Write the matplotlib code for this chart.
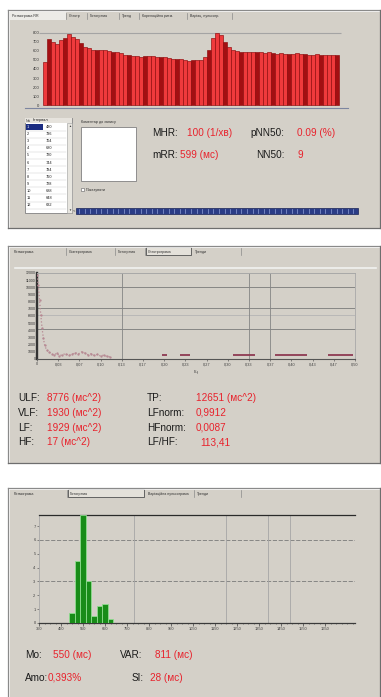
import matplotlib
matplotlib.use("Agg")
import matplotlib.pyplot as plt
from matplotlib.patches import Rectangle

plt.rcParams['font.family'] = ['Liberation Sans', 'DejaVu Sans']

W, H = 381, 697
BG = '#d4d0c8'
RED = '#e8222c'

# ---------------- data ----------------
# Panel 1: rhythmogram (RR intervals, ms)
rr_values = [480, 736, 704, 680, 720, 744, 784, 760, 728, 688, 648, 632, 616, 616, 616,
             608, 600, 592, 584, 576, 560, 552, 544, 544, 536, 544, 544, 544, 536, 536,
             528, 520, 512, 512, 512, 504, 488, 496, 496, 504, 536, 608, 744, 800, 776,
             704, 648, 616, 600, 592, 584, 592, 584, 592, 584, 576, 584, 576, 568, 576,
             568, 568, 568, 576, 568, 568, 560, 560, 568, 560, 552, 552, 552, 552]
rr_ticks = [0, 100, 200, 300, 400, 500, 600, 700, 800]
rr_tick_labels = ['0', '100', '200', '300', '400', '500', '600', '700', '800']

list_header = ['№', 'Інтервал']
list_rows = [('1', '480'), ('2', '736'), ('3', '704'), ('4', '680'), ('5', '720'),
             ('6', '744'), ('7', '784'), ('8', '760'), ('9', '728'), ('10', '688'),
             ('11', '648'), ('12', '632')]

tabs1 = ['Ритмограма RR', 'Спектр', 'Гістограма', 'Тренд', 'Кореляційна ритм.', 'Варіац. пульсогр.']
tabs2 = ['Ритмограма', 'Скатерограма', 'Гістограма', 'Спектрограма', 'Тренди']
tabs3 = ['Ритмограма', 'Гістограма', 'Варіаційна пульсограма', 'Тренди']

stat1_labels = ['MHR:', 'pNN50:', 'mRR:', 'NN50:']
stat1_values = ['100 (1/хв)', '0.09 (%)', '599 (мс)', '9']

# Panel 2: spectrum
spec_freq = [0.000, 0.002, 0.004, 0.006, 0.008, 0.010, 0.012, 0.015, 0.019, 0.023,
             0.027, 0.031, 0.035, 0.040, 0.045, 0.050, 0.055, 0.060, 0.065, 0.070,
             0.075, 0.080, 0.085, 0.090, 0.095, 0.100, 0.105, 0.110, 0.115]
spec_power = [11700, 10300, 8200, 6100, 4300, 2900, 1950, 1250, 980, 700,
              550, 800, 450, 600, 750, 500, 650, 900, 700, 1000,
              850, 600, 750, 500, 650, 400, 550, 350, 300]
band_marks = [(0.197, 0.205), (0.225, 0.241), (0.308, 0.343), (0.374, 0.425), (0.458, 0.497)]
band_level = 560
spec_xticks = [i / 30 for i in range(16)]
spec_yticks = list(range(0, 12001, 1000))
spec_vgrid = [4 / 30, 10 / 30, 11 / 30]
spec_hgrid_dark = [4200, 7100, 10000]
spec_hgrid_light = [6100]

spec_labels = ['ULF:', 'VLF:', 'LF:', 'HF:']
spec_values = ['8776 (мс^2)', '1930 (мс^2)', '1929 (мс^2)', '17 (мс^2)']
idx_labels = ['TP:', 'LFnorm:', 'HFnorm:', 'LF/HF:']
idx_values = ['12651 (мс^2)', '0,9912', '0,0087', '113,41']

# Panel 3: histogram
hist_centers = [500, 525, 550, 575, 600, 625, 650, 675]
hist_heights = [0.72, 4.5, 7.8, 3.0, 0.5, 1.2, 1.4, 0.3]
hist_xticks = list(range(350, 1700, 100))
hist_yticks = [0, 1, 2, 3, 4, 5, 6, 7]
hist_vgrid = [780, 1200, 1390, 1490]
hist_hgrid = [3, 6]

stat3_labels = ['Mo:', 'VAR:', 'Amo:', 'SI:']
stat3_values = ['550 (мс)', '811 (мс)', '0,393%', '28 (мс)']

# ---------------- figure ----------------
fig = plt.figure(figsize=(W / 100, H / 100), dpi=100)
fig.patch.set_facecolor('white')

ov = fig.add_axes([0, 0, 1, 1])
ov.set_xlim(0, W)
ov.set_ylim(H, 0)
ov.axis('off')
ov.set_zorder(0)


def rect(x0, y0, x1, y1, **kw):
    ov.add_patch(Rectangle((x0, y0), x1 - x0, y1 - y0, **kw))


def hl(y, x0, x1, **kw):
    ov.plot([x0, x1], [y, y], **kw)


def vl(x, y0, y1, **kw):
    ov.plot([x, x], [y0, y1], **kw)


def panel(y0, y1):
    rect(8, y0, 380, y1, facecolor=BG, edgecolor='none')
    hl(y0, 8, 380, color='#8a8a8a', lw=0.9)
    vl(8, y0, y1, color='#8a8a8a', lw=0.9)
    hl(y0 + 1.2, 9, 379, color='#f4f4f4', lw=0.6)
    vl(9.2, y0 + 1, y1 - 1, color='#f4f4f4', lw=0.6)
    hl(y1, 8, 380, color='#6e6e6e', lw=0.9)
    vl(380, y0, y1, color='#6e6e6e', lw=0.9)


def tabs(names, xs, y, selected=None):
    for i, name in enumerate(names):
        x0, x1 = xs[i], xs[i + 1]
        if selected == i:
            rect(x0, y - 4.5, x1 - 2, y + 3.5, facecolor='#e4e1da', edgecolor='#505050', lw=0.6)
        else:
            vl(x1 - 1, y - 3.5, y + 3, color='#8a8a8a', lw=0.5)
        ov.text(x0 + 2, y, name, fontsize=2.6, color='#303030', va='center', ha='left')


def ax_px(x0, y0, x1, y1):
    a = fig.add_axes([x0 / W, 1 - y1 / H, (x1 - x0) / W, (y1 - y0) / H])
    a.set_facecolor('none')
    a.set_zorder(2)
    return a


# ---------- Panel 1 ----------
panel(10, 228)
rect(10, 11.5, 66, 20, facecolor='#ecebe7', edgecolor='none')
tabs(tabs1, [10, 67, 88, 120, 140, 188, 233], 16, selected=None)

ax1 = ax_px(25, 30, 348, 108)
idx = list(range(len(rr_values)))
cols = ['#a30f12' if i % 4 == 1 else '#ef3a3c' for i in idx]
ax1.bar(idx, rr_values, width=1.0, color=cols, edgecolor='#8e0a0c', linewidth=0.45, zorder=3)
ax1.hlines(rr_ticks[-1], -1.5, len(rr_values), color='#a4a4a4', lw=0.8, zorder=2)
ax1.set_xlim(-5, 75.75)
ax1.set_ylim(-33.3, 833.3)
for s in ['top', 'right', 'left']:
    ax1.spines[s].set_visible(False)
ax1.spines['bottom'].set_color('#7d86a0')
ax1.spines['bottom'].set_linewidth(0.8)
ax1.set_xticks([])
ax1.set_yticks(rr_ticks)
ax1.set_yticklabels(rr_tick_labels)
ax1.tick_params(axis='y', length=0, pad=-10.5, labelsize=3.0, labelcolor='#303030')

# list box
rect(25, 118, 72, 213, facecolor='white', edgecolor='#808080', lw=0.6)
rect(25, 118, 72, 123, facecolor='#e6e3dd', edgecolor='none')
ov.text(26, 120.5, list_header[0], fontsize=2.7, va='center', color='#202020')
ov.text(33, 120.5, list_header[1], fontsize=2.7, va='center', color='#202020')
for r, (n, v) in enumerate(list_rows):
    yy = 127 + r * 7.1
    if r == 0:
        rect(25.5, yy - 3, 43, yy + 3, facecolor='#1b2d82', edgecolor='none')
        ov.text(27, yy, n, fontsize=2.8, va='center', color='white')
    else:
        ov.text(27, yy, n, fontsize=2.8, va='center', color='#202020')
    ov.text(46, yy, v, fontsize=2.8, va='center', color='#202020')
    hl(yy + 3.5, 25.5, 66, color='#c8c8c8', lw=0.3)
rect(67, 123, 72, 213, facecolor='#e8e6e0', edgecolor='#9a9a9a', lw=0.4)
ov.text(69.5, 126, '▲', fontsize=2.2, ha='center', va='center', color='#404040')
ov.text(69.5, 210, '▼', fontsize=2.2, ha='center', va='center', color='#404040')

# comment box
ov.text(81, 122.5, 'Коментар до запису', fontsize=2.7, va='center', color='#303030')
rect(81, 127, 136, 181, facecolor='white', edgecolor='#808080', lw=0.6)
rect(81, 188, 84, 191, facecolor='white', edgecolor='#606060', lw=0.4)
ov.text(86, 189.5, 'Показувати', fontsize=2.7, va='center', color='#303030')

# stats
ov.text(152, 133, stat1_labels[0], fontsize=7.2, va='center', color='#1a1a1a')
ov.text(187, 133, stat1_values[0], fontsize=7.2, va='center', color=RED)
ov.text(250, 133, stat1_labels[1], fontsize=7.2, va='center', color='#1a1a1a')
ov.text(297, 133, stat1_values[1], fontsize=7.2, va='center', color=RED)
ov.text(152, 155, stat1_labels[2], fontsize=7.2, va='center', color='#1a1a1a')
ov.text(180, 155, stat1_values[2], fontsize=7.2, va='center', color=RED)
ov.text(256, 155, stat1_labels[3], fontsize=7.2, va='center', color='#1a1a1a')
ov.text(297, 155, stat1_values[3], fontsize=7.2, va='center', color=RED)

# progress bar
ov.text(74, 210.5, '<', fontsize=3, ha='center', va='center', color='#303030')
rect(76, 208, 358, 213.5, facecolor='#2a3c86', edgecolor='#1a2458', lw=0.5)
xx = 79.0
while xx < 357:
    vl(xx, 208.6, 213, color='#8fa0d8', lw=0.5)
    xx += 5.6

# ---------- Panel 2 ----------
panel(246, 463)
tabs(tabs2, [12, 67, 116, 146, 193, 242], 251.5, selected=3)
hl(268, 15, 376, color='#f2f2f0', lw=1.2)

ax2 = ax_px(37, 273, 355, 359)
ax2.set_xlim(0, 0.5)
ax2.set_ylim(0, 12000)
for v in spec_hgrid_dark:
    ax2.axhline(v, color='#7a7a7a', lw=0.6, zorder=1)
for v in spec_hgrid_light:
    ax2.axhline(v, color='#b4b4b4', lw=0.6, zorder=1)
for v in spec_vgrid:
    ax2.axvline(v, color='#858585', lw=0.6, zorder=1)
ax2.plot(spec_freq, spec_power, ls=':', color='#b68892', lw=0.9, marker='.', ms=1.3, zorder=3)
for a, b in band_marks:
    ax2.plot([a, b], [band_level, band_level], color='#8e3a52', lw=1.3, solid_capstyle='butt', zorder=3)
ax2.spines['left'].set_color('#333333')
ax2.spines['left'].set_linewidth(1.7)
ax2.spines['top'].set_color('#a8a8a8')
ax2.spines['top'].set_linewidth(0.7)
ax2.spines['right'].set_color('#a8a8a8')
ax2.spines['right'].set_linewidth(0.6)
ax2.spines['bottom'].set_color('#555555')
ax2.spines['bottom'].set_linewidth(0.8)
ax2.set_xticks(spec_xticks)
ax2.set_xticklabels([('0' if v == 0 else f'{v:.2f}'.replace('.', ',')) for v in spec_xticks])
ax2.set_yticks(spec_yticks)
ax2.set_yticklabels([str(v) for v in spec_yticks])
ax2.tick_params(axis='x', length=1.5, width=0.4, pad=1, labelsize=2.8, colors='#404040')
ax2.tick_params(axis='y', length=0, pad=1, labelsize=2.6, colors='#303030')
ov.text(196, 372, 'Гц', fontsize=3.2, ha='center', va='center', color='#404040')

for r in range(4):
    yy = 398 + r * 14.8
    ov.text(18, yy, spec_labels[r], fontsize=7.2, va='center', color='#1a1a1a')
    ov.text(47, yy, spec_values[r], fontsize=7.2, va='center', color=RED)
    ov.text(147, yy, idx_labels[r], fontsize=7.2, va='center', color='#1a1a1a')
    ov.text(196 if r != 3 else 200, yy, idx_values[r], fontsize=7.2, va='center', color=RED)

# ---------- Panel 3 ----------
panel(488, 700)
tabs(tabs3, [12, 68, 146, 195, 242], 493.5, selected=1)

ax3 = ax_px(39, 515, 355, 623)
ax3.set_xlim(350, 350 + 316 / 0.22)
ax3.set_ylim(0, 7.8)
for v in hist_hgrid:
    ax3.axhline(v, color='#7a7a7a', lw=0.6, ls=(0, (5, 2)), zorder=1)
for v in hist_vgrid:
    ax3.axvline(v, color='#a6a6a6', lw=0.6, zorder=1)
ax3.bar(hist_centers, hist_heights, width=25, color='#188c18', edgecolor='#8fdc8f', linewidth=0.6, zorder=3)
ax3.spines['top'].set_color('#2a2a2a')
ax3.spines['top'].set_linewidth(0.9)
ax3.spines['left'].set_color('#a8a8a8')
ax3.spines['left'].set_linewidth(0.6)
ax3.spines['right'].set_visible(False)
ax3.spines['bottom'].set_color('#3a3a3a')
ax3.spines['bottom'].set_linewidth(0.9)
ax3.set_xticks(hist_xticks)
ax3.set_xticklabels([str(v) for v in hist_xticks])
ax3.set_xticks(list(range(350, 1790, 25)), minor=True)
ax3.set_yticks(hist_yticks)
ax3.set_yticklabels([str(v) for v in hist_yticks])
ax3.tick_params(axis='x', which='major', length=2, width=0.5, pad=1, labelsize=2.9, colors='#404040')
ax3.tick_params(axis='x', which='minor', length=1, width=0.4, colors='#404040')
ax3.tick_params(axis='y', length=1.5, width=0.4, pad=1, labelsize=2.9, colors='#404040')

ov.text(25, 655, stat3_labels[0], fontsize=7.2, va='center', color='#1a1a1a')
ov.text(53, 655, stat3_values[0], fontsize=7.2, va='center', color=RED)
ov.text(120, 655, stat3_labels[1], fontsize=7.2, va='center', color='#1a1a1a')
ov.text(155, 655, stat3_values[1], fontsize=7.2, va='center', color=RED)
ov.text(25, 678, stat3_labels[2], fontsize=7.2, va='center', color='#1a1a1a')
ov.text(48, 678, stat3_values[2], fontsize=7.2, va='center', color=RED)
ov.text(132, 678, stat3_labels[3], fontsize=7.2, va='center', color='#1a1a1a')
ov.text(150, 678, stat3_values[3], fontsize=7.2, va='center', color=RED)

fig.savefig('out.png', dpi=100, facecolor='white')
